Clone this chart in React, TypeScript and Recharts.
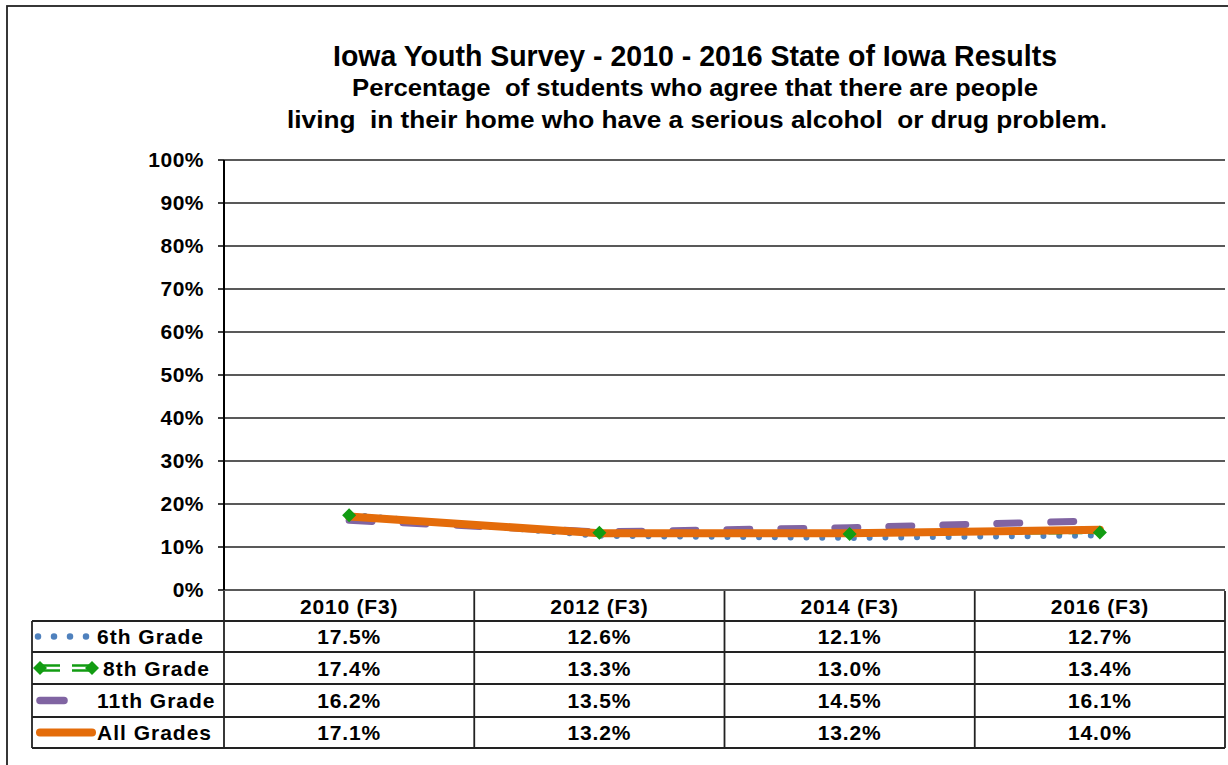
import { LineChart, Line, XAxis, YAxis, CartesianGrid } from 'recharts';

const YEARS = ['2010 (F3)', '2012 (F3)', '2014 (F3)', '2016 (F3)'];
const GRADE_6 = [17.5, 12.6, 12.1, 12.7];
const GRADE_8 = [17.4, 13.3, 13.0, 13.4];
const GRADE_11 = [16.2, 13.5, 14.5, 16.1];
const ALL_GRADES = [17.1, 13.2, 13.2, 14.0];
const Y_TICKS = [0, 10, 20, 30, 40, 50, 60, 70, 80, 90, 100];

const TITLE = 'Iowa Youth Survey - 2010 - 2016 State of Iowa Results';
const SUBTITLE_1 = 'Percentage  of students who agree that there are people';
const SUBTITLE_2 = 'living  in their home who have a serious alcohol  or drug problem.';

const BLUE = '#4f81bd';
const GREEN = '#129c12';
const PURPLE = '#8064a2';
const ORANGE = '#e46c0a';
const FONT = '"Liberation Sans", Arial, sans-serif';

const SERIES = [
  { key: 'g6', name: '6th Grade', values: GRADE_6 },
  { key: 'g8', name: '8th Grade', values: GRADE_8 },
  { key: 'g11', name: '11th Grade', values: GRADE_11 },
  { key: 'all', name: 'All Grades', values: ALL_GRADES },
];

const data = YEARS.map((year, i) => ({
  year,
  g6: GRADE_6[i],
  g8: GRADE_8[i],
  g11: GRADE_11[i],
  all: ALL_GRADES[i],
}));

// plot box
const PLOT_LEFT = 224;
const PLOT_RIGHT = 1225;
const PLOT_TOP = 160;
const PLOT_BOTTOM = 590;
const BAND = (PLOT_RIGHT - PLOT_LEFT) / YEARS.length;
const ROWS = [591, 621, 652, 684, 717, 748];
const LEGEND_LEFT = 32;
const LABEL_X: Record<string, number> = { g6: 97, g8: 103, g11: 97, all: 97 };

const Diamond = (props: any) => {
  const { cx, cy } = props;
  if (cx == null || cy == null) return null;
  const r = 7;
  return (
    <polygon
      points={`${cx},${cy - r} ${cx + r},${cy} ${cx},${cy + r} ${cx - r},${cy}`}
      fill={GREEN}
    />
  );
};

function LegendSymbol({ k, y }: { k: string; y: number }) {
  if (k === 'g6') {
    return (
      <line x1={38} y1={y} x2={90} y2={y} stroke={BLUE} strokeWidth={6.5}
        strokeDasharray="0 16" strokeLinecap="round" />
    );
  }
  if (k === 'g8') {
    return (
      <g>
        <line x1={38} y1={y - 2.5} x2={60} y2={y - 2.5} stroke={GREEN} strokeWidth={2.5} />
        <line x1={38} y1={y + 2.5} x2={60} y2={y + 2.5} stroke={GREEN} strokeWidth={2.5} />
        <line x1={72} y1={y - 2.5} x2={92} y2={y - 2.5} stroke={GREEN} strokeWidth={2.5} />
        <line x1={72} y1={y + 2.5} x2={92} y2={y + 2.5} stroke={GREEN} strokeWidth={2.5} />
        <Diamond cx={40} cy={y} />
        <Diamond cx={92} cy={y} />
      </g>
    );
  }
  if (k === 'g11') {
    return (
      <line x1={40} y1={y} x2={64} y2={y} stroke={PURPLE} strokeWidth={7.5} strokeLinecap="round" />
    );
  }
  return (
    <line x1={40} y1={y} x2={92} y2={y} stroke={ORANGE} strokeWidth={8} strokeLinecap="round" />
  );
}

const textStyle = { fontFamily: FONT, fontWeight: 'bold' as const, fontSize: 21, letterSpacing: 0.8 };

export default function App() {
  return (
    <div style={{ position: 'absolute', left: 0, top: 0, width: 1228, height: 765, background: '#fff', overflow: 'hidden' }}>
      <div style={{ position: 'absolute', left: 0, top: 0 }}>
        <LineChart
          width={1228}
          height={600}
          data={data}
          margin={{ top: PLOT_TOP, right: 1228 - PLOT_RIGHT, bottom: 600 - PLOT_BOTTOM, left: PLOT_LEFT - 70 }}
        >
          <CartesianGrid vertical={false} stroke="#222" strokeWidth={1.6} />
          <XAxis dataKey="year" hide padding={{ left: BAND / 2, right: BAND / 2 }} />
          <YAxis
            width={70}
            domain={[0, 100]}
            ticks={Y_TICKS}
            interval={0}
            tickFormatter={(v: number) => `${v}%`}
            axisLine={{ stroke: '#000', strokeWidth: 2 }}
            tickLine={{ stroke: '#000', strokeWidth: 1.5 }}
            tickSize={6}
            tickMargin={14}
            tick={{ fill: '#000', fontSize: 21, fontWeight: 'bold', fontFamily: FONT, letterSpacing: 0.5 }}
          />
          <Line dataKey="g6" name="6th Grade" stroke={BLUE} strokeWidth={6} strokeDasharray="0 15.8"
            strokeLinecap="round" dot={false} isAnimationActive={false} />
          <Line dataKey="g8" name="8th Grade" stroke={GREEN} strokeWidth={3.5} strokeDasharray="14 6"
            dot={<Diamond />} isAnimationActive={false} />
          <Line dataKey="g11" name="11th Grade" stroke={PURPLE} strokeWidth={7} strokeDasharray="23 31"
            strokeLinecap="round" dot={false} isAnimationActive={false} />
          <Line dataKey="all" name="All Grades" stroke={ORANGE} strokeWidth={8} strokeLinecap="round"
            dot={false} isAnimationActive={false} />
        </LineChart>
      </div>

      <svg width={1228} height={765} style={{ position: 'absolute', left: 0, top: 0, pointerEvents: 'none' }}>
        {/* outer frame */}
        <rect x={7} y={6} width={1240} height={780} fill="none" stroke="#222" strokeWidth={1.8} />

        {/* titles */}
        <text x={695} y={66} textAnchor="middle" fontFamily={FONT} fontWeight="bold" fontSize={29}
          textLength={724} lengthAdjust="spacingAndGlyphs">{TITLE}</text>
        <text x={695} y={96} textAnchor="middle" fontFamily={FONT} fontWeight="bold" fontSize={23}
          textLength={686} lengthAdjust="spacingAndGlyphs" style={{ whiteSpace: 'pre' }}>{SUBTITLE_1}</text>
        <text x={697} y={128} textAnchor="middle" fontFamily={FONT} fontWeight="bold" fontSize={23}
          textLength={820} lengthAdjust="spacingAndGlyphs" style={{ whiteSpace: 'pre' }}>{SUBTITLE_2}</text>

        {/* data table */}
        <g stroke="#222" strokeWidth={1.8}>
          {YEARS.map((_, i) => (
            <line key={`c${i}`} x1={PLOT_LEFT + BAND * i} y1={ROWS[0]} x2={PLOT_LEFT + BAND * i} y2={ROWS[5]} />
          ))}
          <line x1={PLOT_RIGHT} y1={ROWS[0]} x2={PLOT_RIGHT} y2={ROWS[5]} />
          <line x1={LEGEND_LEFT} y1={ROWS[1]} x2={LEGEND_LEFT} y2={ROWS[5]} />
          {ROWS.slice(1).map((y) => (
            <line key={`r${y}`} x1={LEGEND_LEFT} y1={y} x2={PLOT_RIGHT} y2={y} />
          ))}
        </g>
        {YEARS.map((year, i) => (
          <text key={year} x={PLOT_LEFT + BAND * (i + 0.5)} y={(ROWS[0] + ROWS[1]) / 2 + 7.5}
            textAnchor="middle" style={textStyle}>{year}</text>
        ))}
        {SERIES.map((s, r) => {
          const cy = (ROWS[r + 1] + ROWS[r + 2]) / 2;
          return (
            <g key={s.key}>
              <LegendSymbol k={s.key} y={cy} />
              <text x={LABEL_X[s.key]} y={cy + 7.5} style={{ ...textStyle, letterSpacing: 1 }}>{s.name}</text>
              {s.values.map((v, i) => (
                <text key={i} x={PLOT_LEFT + BAND * (i + 0.5)} y={cy + 7.5} textAnchor="middle" style={textStyle}>
                  {`${v.toFixed(1)}%`}
                </text>
              ))}
            </g>
          );
        })}
      </svg>
    </div>
  );
}
